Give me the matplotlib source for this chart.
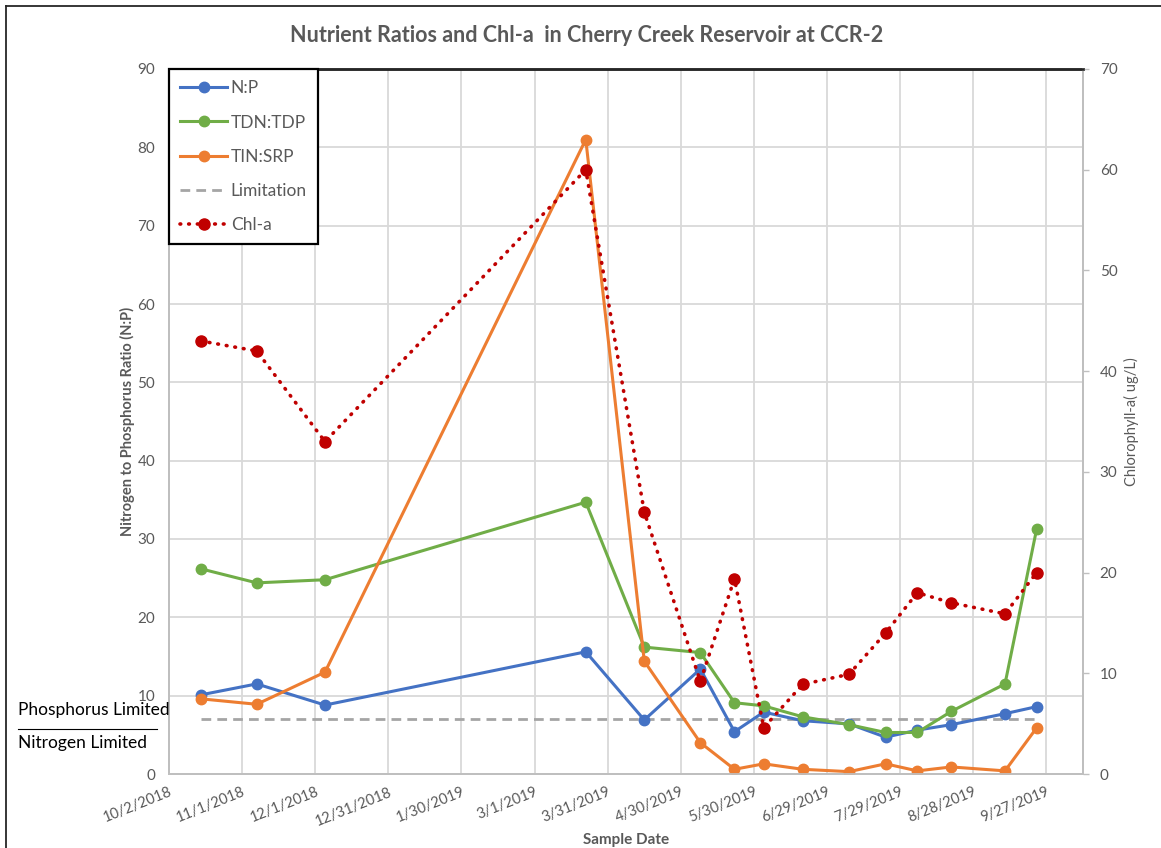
import pandas as pd
import matplotlib
matplotlib.use('Agg')
import matplotlib.pyplot as plt
from matplotlib.lines import Line2D

# sample dates at CCR-2
dates = pd.to_datetime([
    '2018-10-15', '2018-11-07', '2018-12-05', '2019-03-22', '2019-04-15',
    '2019-05-08', '2019-05-22', '2019-06-03', '2019-06-19', '2019-07-08',
    '2019-07-23', '2019-08-05', '2019-08-19', '2019-09-10', '2019-09-23',
])

# nutrient ratios (left axis)
np_ratio = [10.1, 11.5, 8.8, 15.6, 6.9, 13.4, 5.4, 7.9, 6.8, 6.4, 4.7, 5.6, 6.3, 7.7, 8.6]
tdn_tdp = [26.2, 24.4, 24.8, 34.7, 16.2, 15.5, 9.1, 8.7, 7.3, 6.3, 5.3, 5.3, 8.0, 11.5, 31.3]
tin_srp = [9.6, 8.9, 13.0, 81.0, 14.4, 4.0, 0.6, 1.3, 0.6, 0.3, 1.3, 0.4, 0.9, 0.4, 5.9]
limitation = [7.0] * len(dates)

# chlorophyll-a (right axis, ug/L)
chla = [43.0, 42.0, 33.0, 60.0, 26.0, 9.2, 19.4, 4.6, 8.9, 9.9, 14.0, 18.0, 17.0, 15.9, 20.0]

tick_dates = pd.date_range('2018-10-02', periods=13, freq='30D')
tick_labels = [f"{d.month}/{d.day}/{d.year}" for d in tick_dates]

plt.rcParams['font.family'] = ['Lato', 'DejaVu Sans']
txt_col = '#595959'
grid_col = '#D9D9D9'

fig = plt.figure(figsize=(11.61, 8.48), dpi=100)
ax = fig.add_axes([169/1161, 1 - 774/848, (1083 - 169)/1161, (774 - 69)/848])
ax2 = ax.twinx()

# ratio series
ax.plot(dates, np_ratio, color='#4472C4', lw=2.2, marker='o', ms=7.5, label='N:P', zorder=3)
ax.plot(dates, tdn_tdp, color='#70AD47', lw=2.2, marker='o', ms=7.5, label='TDN:TDP', zorder=3)
ax.plot(dates, tin_srp, color='#ED7D31', lw=2.2, marker='o', ms=7.5, label='TIN:SRP', zorder=4)
ax.plot(dates, limitation, color='#A5A5A5', lw=2.0, ls=(0, (3.5, 2.2)), label='Limitation', zorder=2)

# chl-a on the secondary axis
ax2.plot(dates, chla, color='#C00000', lw=2.6, ls=(0, (0.2, 2.2)), dash_capstyle='round',
         marker='o', ms=8, label='Chl-a')

start = pd.Timestamp('2018-10-02')
ax.set_xlim(start, pd.Timestamp('2019-10-12'))
ax.set_ylim(0, 90)
ax2.set_ylim(0, 70)

ax.set_xticks(tick_dates)
ax.set_xticklabels(tick_labels, rotation=22, ha='right', rotation_mode='anchor')
ax.set_yticks(range(0, 91, 10))
ax2.set_yticks(range(0, 71, 10))

ax.grid(True, color=grid_col, lw=1.3)
ax.set_axisbelow(True)
ax.tick_params(axis='x', length=0, pad=8, labelsize=10.5, labelcolor=txt_col)
ax.tick_params(axis='y', length=0, pad=10, labelsize=11, labelcolor=txt_col)
ax2.tick_params(axis='y', length=4, width=1, color='#BFBFBF', pad=8, labelsize=11, labelcolor=txt_col)

for a in (ax, ax2):
    for side in ('left', 'right', 'bottom'):
        a.spines[side].set_color('#BFBFBF')
        a.spines[side].set_linewidth(1.3)
    a.spines['top'].set_color('#262626')
    a.spines['top'].set_linewidth(1.8)

ax.set_ylabel('Nitrogen to Phosphorus Ratio (N:P)', fontsize=10.5, fontweight='bold',
              color=txt_col, labelpad=2)
ax2.set_ylabel('Chlorophyll-a( ug/L)', fontsize=10.5, color=txt_col, labelpad=5)
ax.set_xlabel('Sample Date', fontsize=11, fontweight='bold', color=txt_col, labelpad=3)

fig.text(587/1161, 1 - 35/848, 'Nutrient Ratios and Chl-a  in Cherry Creek Reservoir at CCR-2',
         ha='center', va='center', fontsize=15.5, fontweight='bold', color=txt_col)

# legend on top of both axes
handles = ax.get_legend_handles_labels()[0] + ax2.get_legend_handles_labels()[0]
leg = ax2.legend(handles=handles, loc='upper left', bbox_to_anchor=(0, 1), borderaxespad=0,
                 fancybox=False, framealpha=1, edgecolor='black', fontsize=12.5,
                 handlelength=2.7, labelspacing=1.05, handletextpad=0.2, borderpad=0.65,
                 labelcolor=txt_col)
leg.get_frame().set_linewidth(1.6)

# limitation zones beside the axis
fig.text(18/1161, 1 - 710/848, 'Phosphorus Limited', ha='left', va='center', fontsize=12.5, color='black')
fig.text(18/1161, 1 - 743/848, 'Nitrogen Limited', ha='left', va='center', fontsize=12.5, color='black')
fig.add_artist(Line2D([18/1161, 157/1161], [1 - 729/848, 1 - 729/848], color='black', lw=0.8))

# outer chart border
fig.add_artist(Line2D([6/1161, 6/1161], [0, 1 - 6/848], color='#262626', lw=1.3))
fig.add_artist(Line2D([6/1161, 1], [1 - 6/848, 1 - 6/848], color='#262626', lw=1.3))

fig.savefig('out.png', dpi=100)
